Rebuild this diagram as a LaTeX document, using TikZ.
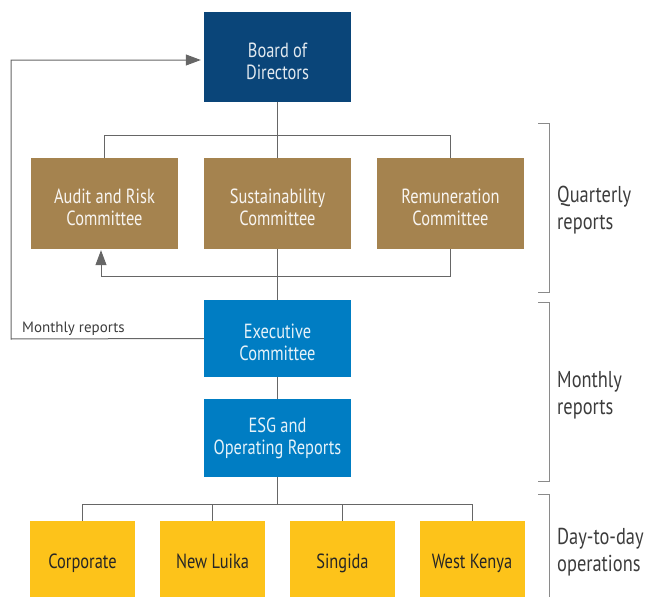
\documentclass[tikz,border=0pt]{standalone}
\usepackage{fontspec}
\setmainfont[FakeStretch=0.8]{PT Sans}
\newfontfamily\labelfont{PT Sans}
\usetikzlibrary{arrows.meta}
\definecolor{boardblue}{HTML}{0A4579}
\definecolor{execblue}{HTML}{007DC3}
\definecolor{tan}{HTML}{A5834F}
\definecolor{gold}{HTML}{FDC31A}
\definecolor{linegray}{HTML}{666666}
\definecolor{brgray}{HTML}{8A8A8A}
\definecolor{labgray}{HTML}{3C3C3C}
\tikzset{
  box/.style={rectangle, inner sep=0pt},
  boxtext/.style={inner sep=0pt, align=center, font=\fontsize{20.5}{22}\selectfont},
  boardbox/.style={box, fill=boardblue, minimum width=147pt, minimum height=90pt},
  combox/.style={box, fill=tan, minimum width=147pt, minimum height=91pt},
  execbox/.style={box, fill=execblue, minimum width=147pt, minimum height=78pt},
  opbox/.style={box, fill=gold, minimum width=105pt, minimum height=76pt},
  boardtext/.style={boxtext, text=white!88!boardblue},
  comtext/.style={boxtext, text=white!92!tan},
  exectext/.style={boxtext, text=white!90!execblue},
  optext/.style={boxtext, text=black!85, text height=15pt, text depth=4pt, yshift=-3.5pt},
  conn/.style={draw=linegray, line width=1pt},
  brk/.style={draw=brgray, line width=1pt},
  side/.style={align=left, anchor=west, text=labgray, inner sep=0pt, font=\fontsize{23}{27}\selectfont},
  tip/.style={-{Triangle[length=15pt,width=11pt]}}
}
\begin{document}
\begin{tikzpicture}[x=1pt,y=-1pt]
\useasboundingbox (0,0) rectangle (657,597);
\node[boardbox, label={[boardtext, yshift=-4pt]center:{Board of\\Directors}}] (board) at (277.5,57) {};
\node[combox, label={[comtext, yshift=-3.5pt]center:{Audit and Risk\\Committee}}] (audit) at (104.5,203.5) {};
\node[combox, label={[comtext, yshift=-3.5pt]center:{Sustainability\\Committee}}] (sust) at (277.5,203.5) {};
\node[combox, label={[comtext, yshift=-3.5pt]center:{Remuneration\\Committee}}] (rem) at (450.5,203.5) {};
\node[execbox, minimum height=77pt, label={[exectext, yshift=-3.5pt]center:{Executive\\Committee}}] (exec) at (277.5,338.5) {};
\node[execbox, label={[exectext]center:{ESG and\\Operating Reports}}] (esg) at (277.5,438) {};
\node[opbox, label={[optext]center:Corporate}] (corp) at (82.5,559) {};
\node[opbox, label={[optext]center:New Luika}] (luika) at (212.5,559) {};
\node[opbox, label={[optext]center:Singida}] (sing) at (342.5,559) {};
\node[opbox, label={[optext]center:West Kenya}] (kenya) at (472,559) {};

\coordinate (htop) at (277.5,135);
\coordinate (hmid) at (0,276);
\coordinate (hbot) at (277.5,504);
\coordinate (mcorner) at (11,339);

% board to committees
\draw[conn] (board.south) -- (htop);
\draw[conn] (audit.north) -- (audit.north |- htop) -- (rem.north |- htop) -- (rem.north);
\draw[conn] (sust.north) -- (htop);
% remuneration feedback to audit
\draw[conn, tip] (rem.south) -- (rem.south |- hmid) -| ([xshift=-3.5pt,yshift=-1pt]audit.south);
% sustainability to executive
\draw[conn] (sust.south) -- (exec.north);
\draw[conn] (exec.south) -- (esg.north);
% monthly reports loop
\draw[conn, tip] (exec.west) -- (mcorner) |- ([xshift=-3pt,yshift=-3pt]board.west);
\node[anchor=south west, inner sep=0pt, text=labgray, font=\labelfont\fontsize{15}{17}\selectfont] (mlabel) at (22,336) {Monthly reports};
% esg to operations
\draw[conn] (esg.south) -- (hbot);
\draw[conn] (corp.north) -- (corp.north |- hbot) -- (kenya.north |- hbot) -- (kenya.north);
\draw[conn] (luika.north) -- (luika.north |- hbot);
\draw[conn] (sing.north) -- (sing.north |- hbot);

% brackets
\draw[brk] (538,123) -- (549,123) -- (549,292) -- (538,292);
\draw[brk] (538,302) -- (549,302) -- (549,481) -- (538,481);
\draw[brk] (538,494) -- (549,494) -- (549,600);
\node[side] (q) at (557,210.5) {Quarterly\\reports};
\node[side] (m) at (557,395.5) {Monthly\\reports};
\node[side] (d) at (557,552) {Day-to-day\\operations};
\end{tikzpicture}
\end{document}
